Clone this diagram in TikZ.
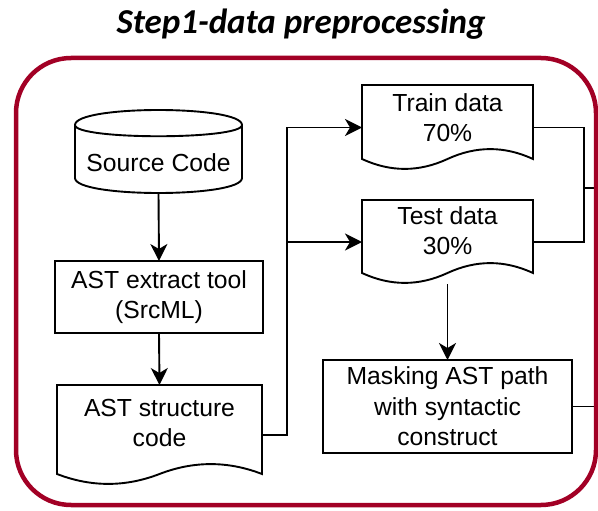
\documentclass[tikz,border=0pt]{standalone}
\usepackage{fontspec}
\setmainfont{Liberation Sans}
\newfontfamily\titlefont{Carlito}
\usetikzlibrary{calc,arrows.meta}
\definecolor{framered}{HTML}{A20025}
\newcommand{\bodyfont}{\fontsize{24.7}{30.5}\selectfont}
\tikzset{
  ln/.style={line width=1.9pt, draw=black, line join=miter},
  arr/.style={ln, -{Stealth[length=17pt,width=17pt,inset=5pt]}},
  procbox/.style={ln, rectangle, inner sep=0pt, outer sep=0pt, align=center, font=\bodyfont},
  area/.style={rectangle, inner sep=0pt, outer sep=0pt},
  txt/.style={align=center, font=\bodyfont, inner sep=0pt},
  frame/.style={line width=4.5pt, draw=framered, rounded corners=55pt}
}
\newcommand{\docshape}[1]{%
  \draw[ln] ($(#1.south west)+(0,11pt)$) -- (#1.north west) -- (#1.north east)
    -- ($(#1.south east)+(0,11pt)$)
    .. controls ($(#1.south west)!5/6!(#1.south east)+(0,24.2pt)$)
       and ($(#1.south west)!2/3!(#1.south east)+(0,24.2pt)$) .. ($(#1.south)+(0,11pt)$)
    .. controls ($(#1.south west)!1/3!(#1.south east)+(0,-2.2pt)$)
       and ($(#1.south west)!1/6!(#1.south east)+(0,-2.2pt)$) .. ($(#1.south west)+(0,11pt)$)
    -- cycle;}
\begin{document}
\begin{tikzpicture}[x=1pt,y=-1pt]
\useasboundingbox (0,0) rectangle (598,511);
% title
\node[inner sep=0pt] (title) at (301,24) {\titlefont\bfseries\itshape\fontsize{35}{42}\selectfont Step1-data preprocessing};
% source code cylinder
\node[area, minimum width=167pt, minimum height=83pt] (src) at (158.5,151.5) {};
\draw[ln] ($(src.north west)+(0,-15pt)$)
   .. controls ($(src.north west)+(0,5pt)$) and ($(src.north east)+(0,5pt)$) .. ($(src.north east)+(0,-15pt)$)
   -- ($(src.south east)+(0,15pt)$)
   .. controls ($(src.south east)+(0,-5pt)$) and ($(src.south west)+(0,-5pt)$) .. ($(src.south west)+(0,15pt)$)
   -- cycle;
\draw[ln] ($(src.north west)+(0,-15pt)$)
   .. controls ($(src.north west)+(0,-30pt)$) and ($(src.north east)+(0,-30pt)$) .. ($(src.north east)+(0,-15pt)$);
\node[txt] (srct) at (158.5,163) {Source Code};
% AST extract tool
\node[procbox, minimum width=208pt, minimum height=72pt, draw] (ext) at (159,297) {AST extract tool\\(SrcML)};
% AST structure code document
\node[area, minimum width=205pt, minimum height=100pt] (ast) at (159.5,435) {};
\docshape{ast}
\node[txt] (astt) at (159.5,423) {AST structure\\code};
% train data
\node[area, minimum width=171pt, minimum height=85pt] (train) at (447.5,127.5) {};
\docshape{train}
\node[txt] (traint) at (447.5,117.5) {Train data\\70\%};
% test data
\node[area, minimum width=171pt, minimum height=84pt] (test) at (447.5,242) {};
\docshape{test}
\node[txt] (testt) at (447.5,230.5) {Test data\\30\%};
% masking
\node[procbox, minimum width=249pt, minimum height=93pt, draw] (mask) at (447.5,406.5) {Masking AST path\\with syntactic\\construct};
% helper coordinates
\coordinate (sp) at (287,300);
\coordinate (mj) at (584,188);
\coordinate (out1) at (598,188);
\coordinate (out2) at (598,406.5);
% connectors
\draw[arr] (src.south) -- (ext.north);
\draw[arr] (ext.south) -- (ast.north);
\draw[arr] (ast.east) -- (ast.east -| sp) |- (train.west);
\draw[arr] (ast.east) -- (ast.east -| sp) |- (test.west);
\draw[ln] (train.east) -| (mj);
\draw[ln] (test.east) -| (mj);
\draw[ln] (mj) -- (out1);
\draw[arr] (test.south) -- (mask.north);
\draw[ln] (mask.east) -- (out2);
% frame
\draw[frame] (16,58) rectangle (596,505);
\end{tikzpicture}
\end{document}
